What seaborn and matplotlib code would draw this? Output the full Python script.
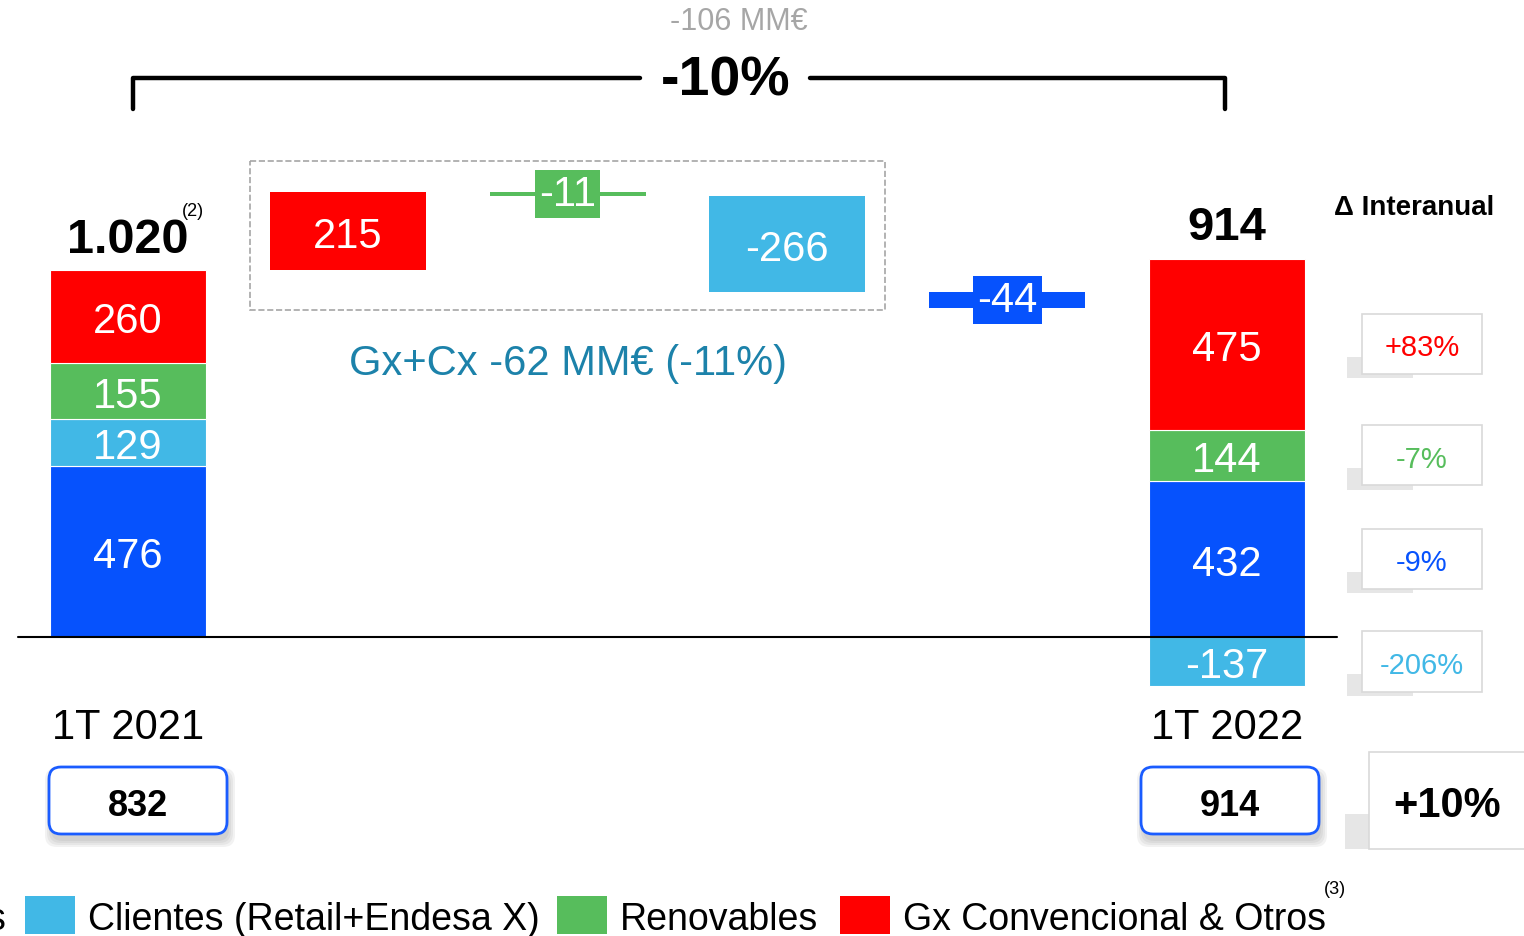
import matplotlib
matplotlib.use("Agg")
import matplotlib.pyplot as plt
from matplotlib.patches import Rectangle, FancyBboxPatch
import seaborn as sns

sns.set_theme(style="white")
plt.rcParams['font.family'] = ['Liberation Sans', 'DejaVu Sans']
plt.rcParams['text.color'] = 'black'

# datos (MM€)
segmentos = ["Redes", "Clientes (Retail+Endesa X)", "Renovables", "Gx Convencional & Otros"]
colores = ["#0652FD", "#41B8E6", "#57BD5C", "#FF0000"]
periodos = ["1T 2021", "1T 2022"]
ebitda_2021 = [476, 129, 155, 260]
ebitda_2022 = [432, -137, 144, 475]
orden_puente = [3, 2, 1, 0]   # Gx, Renovables, Clientes, Redes
ref_2021 = 832                # caja inferior 1T 2021

total_21 = sum(ebitda_2021)
total_22 = sum(ebitda_2022)
delta = [b - a for a, b in zip(ebitda_2021, ebitda_2022)]

def fmt(v):
    return f"{v:,}".replace(",", ".")

fig = plt.figure(figsize=(15.24, 9.37), dpi=100)
ax = fig.add_axes([0, 0, 1, 1])
ax.set_xlim(-0.582, 6.351)
ax.set_ylim(-830.6, 1772)
ax.axis("off")

W = 0.71
txt = dict(color="white", fontsize=30, ha="center", va="center_baseline")

# barras apiladas inicio / fin
def apilar(x, vals):
    pos, neg = 0, 0
    for v, c in zip(vals, colores):
        if v >= 0:
            ax.bar(x, v, bottom=pos, width=W, color=c, edgecolor="white", linewidth=0.8, zorder=2)
            ax.text(x, pos + v / 2, fmt(v), **txt, zorder=4)
            pos += v
        else:
            ax.bar(x, v, bottom=neg, width=W, color=c, edgecolor="white", linewidth=0.8, zorder=2)
            ax.text(x, neg + v / 2, fmt(v), **txt, zorder=4)
            neg += v
    return pos

top21 = apilar(0, ebitda_2021)
top22 = apilar(5, ebitda_2022)
ax.text(0, top21 + 85, fmt(total_21), fontsize=35, fontweight="bold", ha="center", va="center")
ax.text(5, top22 + 88, fmt(total_22), fontsize=34, fontweight="bold", ha="center", va="center")
ax.text(0.296, top21 + 165, "(2)", fontsize=13, ha="center", va="center")

# puente
nivel = total_21
for i, k in enumerate(orden_puente, start=1):
    d = delta[k]
    ax.bar(i, d, bottom=nivel, width=W, color=colores[k], linewidth=0, zorder=2)
    mid = nivel + d / 2
    if abs(d) > 100:
        ax.text(i, mid, fmt(d), **txt, zorder=4)
    else:
        ax.text(i, mid, fmt(d), color="white", fontsize=30, ha="center", va="center", zorder=4,
                bbox=dict(boxstyle="square,pad=0.1", fc=colores[k], ec="none"))
    nivel += d

# línea base
ax.plot([-0.5, 5.5], [0, 0], color="black", lw=1.5, zorder=3)

for x, p in zip([0, 5], periodos):
    ax.text(x, -250, p, fontsize=30, ha="center", va="center")

# variaciones interanuales
mids, pos, neg = [], 0, 0
for v in ebitda_2022:
    if v >= 0:
        mids.append(pos + v / 2); pos += v
    else:
        mids.append(neg + v / 2); neg += v
for a, b, c, m in zip(ebitda_2021, ebitda_2022, colores, mids):
    pct = round((b / a - 1) * 100)
    ax.add_patch(Rectangle((5.887 - 0.273 - 0.07, m - 83 - 12), 0.3, 60,
                           fc="#cfcfcf", ec="none", alpha=0.5, zorder=1))
    ax.add_patch(Rectangle((5.887 - 0.273, m - 83), 0.546, 167,
                           fc="white", ec="#d9d9d9", lw=1.2, zorder=2))
    ax.text(5.887, m, f"{pct:+d}%", color=c, fontsize=21, ha="center", va="center_baseline", zorder=3)

# capa superior en píxeles
ov = fig.add_axes([0, 0, 1, 1])
ov.set_xlim(0, 1524)
ov.set_ylim(937, 0)
ov.axis("off")
ov.set_facecolor("none")

# corchete superior
ov.plot([133, 133, 640], [110, 79, 79], color="black", lw=3.2, solid_joinstyle="round")
ov.plot([810, 1225, 1225], [79, 79, 110], color="black", lw=3.2, solid_joinstyle="round")
var_total = round((total_22 / total_21 - 1) * 100)
ov.text(726, 82, f"{var_total}%", fontsize=40, fontweight="bold", ha="center", va="center")
ov.text(739, 22, f"{total_22 - total_21} MM€", fontsize=22, color="#a6a6a6", ha="center", va="center")

# recuadro Gx + Cx
ov.add_patch(Rectangle((250, 162), 635, 149, fill=False, ec="#a6a6a6", ls="--", lw=1.2))
gxcx = delta[3] + delta[2] + delta[1]
base_gxcx = ebitda_2021[3] + ebitda_2021[2] + ebitda_2021[1]
ov.text(568, 364, f"Gx+Cx {gxcx} MM€ ({round(gxcx / base_gxcx * 100)}%)",
        fontsize=30, color="#1C82AA", ha="center", va="center")

ov.text(1414, 208, "Δ Interanual", fontsize=20, fontweight="bold", ha="center", va="center")

# cajas inferiores
for cx, v in zip([138, 1230], [ref_2021, total_22]):
    for j in range(4):
        e = j * 2
        ov.add_patch(FancyBboxPatch((cx - 89 + 2 - e, 768 + 7 - e), 178 + 2 * e, 67 + 2 * e,
                                    boxstyle="round,pad=0,rounding_size=12",
                                    fc="#6f6f6f", ec="none", alpha=0.09))
    ov.add_patch(FancyBboxPatch((cx - 89, 768), 178, 67, boxstyle="round,pad=0,rounding_size=12",
                                fc="white", ec="#1A5CFF", lw=2))
    ov.text(cx, 803, fmt(v), fontsize=26, fontweight="bold", ha="center", va="center_baseline")

ov.add_patch(Rectangle((1345, 815), 40, 35, fc="#cfcfcf", ec="none", alpha=0.5))
ov.add_patch(Rectangle((1369, 753), 170, 97, fc="white", ec="#d9d9d9", lw=1.2))
ov.text(1447, 802, f"{round((total_22 / ref_2021 - 1) * 100):+d}%", fontsize=30,
        fontweight="bold", ha="center", va="center_baseline")

# leyenda
ley_x = [-80, 25, 557, 840]
for x, c, s in zip(ley_x, colores, segmentos):
    ov.add_patch(Rectangle((x, 897), 50, 38, fc=c, ec="none"))
ov.text(6, 920, "s", fontsize=27, ha="right", va="center")
for x, s in zip(ley_x[1:], segmentos[1:]):
    ov.text(x + 63, 920, s, fontsize=27, ha="left", va="center")
ov.text(1335, 890, "(3)", fontsize=13, ha="center", va="center")

fig.savefig("out.png", dpi=100)
